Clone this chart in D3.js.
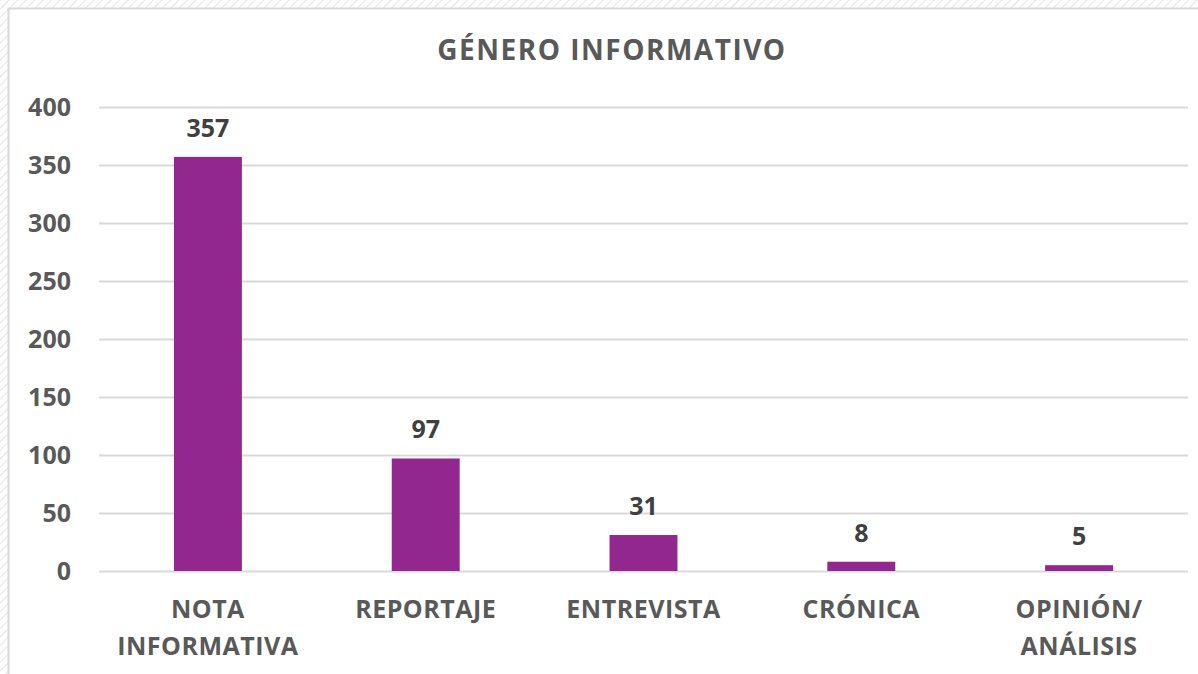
<!DOCTYPE html>
<html>
<head>
<meta charset="utf-8">
<script src="https://cdn.jsdelivr.net/npm/d3@7"></script>
<style>
  body { margin: 0; background: #fff; }
  svg { display: block; }
</style>
</head>
<body>
<svg id="chart" width="1198" height="674"></svg>
<script>
// chart data
var categories = ["NOTA INFORMATIVA", "REPORTAJE", "ENTREVISTA", "CRÓNICA", "OPINIÓN/ ANÁLISIS"];
var labelLines = [["NOTA", "INFORMATIVA"], ["REPORTAJE"], ["ENTREVISTA"], ["CRÓNICA"], ["OPINIÓN/", "ANÁLISIS"]];
var values = [357, 97, 31, 8, 5];
var yTicks = [0, 50, 100, 150, 200, 250, 300, 350, 400];
var title = "GÉNERO INFORMATIVO";

var svg = d3.select("#chart");
var font = "'Open Sans', 'Liberation Sans', sans-serif";

// hatched frame on the left and top edges
var defs = svg.append("defs");
var pat = defs.append("pattern")
  .attr("id", "hatch")
  .attr("width", 6).attr("height", 6)
  .attr("patternUnits", "userSpaceOnUse")
  .attr("patternTransform", "rotate(45)");
pat.append("line")
  .attr("x1", 0).attr("y1", 0).attr("x2", 0).attr("y2", 6)
  .attr("stroke", "#e4e4e4").attr("stroke-width", 2);
svg.append("rect").attr("x", 0).attr("y", 0).attr("width", 1198).attr("height", 8).attr("fill", "url(#hatch)");
svg.append("rect").attr("x", 0).attr("y", 0).attr("width", 8).attr("height", 674).attr("fill", "url(#hatch)");
svg.append("path")
  .attr("d", "M8.5,674 V8.5 H1198")
  .attr("fill", "none")
  .attr("stroke", "#d9d9d9")
  .attr("stroke-width", 2);

var margin = {top: 107, right: 10, bottom: 103, left: 99};
var plotWidth = 1188 - margin.left;
var plotHeight = 571 - margin.top;

var y = d3.scaleLinear()
  .domain([0, 400])
  .range([plotHeight, 0]);

var x = d3.scaleBand()
  .domain(categories)
  .range([0, plotWidth])
  .paddingInner(0.688)
  .paddingOuter(0.344);

var plot = svg.append("g").attr("id", "plot")
  .attr("transform", "translate(" + margin.left + "," + margin.top + ")");

// gridlines
var grid = plot.append("g")
  .call(d3.axisLeft(y).tickValues(yTicks).tickSize(-plotWidth).tickFormat(""));
grid.select(".domain").remove();
grid.selectAll("line").attr("stroke", "#d9d9d9").attr("stroke-width", 2);

// y axis labels
var yAxis = plot.append("g")
  .call(d3.axisLeft(y).tickValues(yTicks).tickSize(0).tickPadding(28));
yAxis.select(".domain").remove();
yAxis.selectAll("text")
  .attr("fill", "#595959")
  .style("font-family", font)
  .style("font-size", "25px")
  .style("font-weight", "bold");

// bars
plot.selectAll("rect.bar")
  .data(values)
  .enter().append("rect")
  .attr("class", "bar")
  .attr("x", function(d, i){ return x(categories[i]); })
  .attr("y", function(d){ return y(d); })
  .attr("width", x.bandwidth())
  .attr("height", function(d){ return plotHeight - y(d); })
  .attr("fill", "#92278f");

// value labels
plot.selectAll("text.val")
  .data(values)
  .enter().append("text")
  .attr("class", "val")
  .attr("x", function(d, i){ return x(categories[i]) + x.bandwidth() / 2; })
  .attr("y", function(d){ return y(d) - 20; })
  .attr("text-anchor", "middle")
  .attr("fill", "#404040")
  .style("font-family", font)
  .style("font-size", "25px")
  .style("font-weight", "bold")
  .text(function(d){ return d; });

// category labels
var cat = plot.selectAll("text.cat")
  .data(categories)
  .enter().append("text")
  .attr("class", "cat")
  .attr("x", function(d){ return x(d) + x.bandwidth() / 2; })
  .attr("y", plotHeight + 47)
  .attr("text-anchor", "middle")
  .attr("fill", "#595959")
  .style("font-family", font)
  .style("font-size", "25px")
  .style("font-weight", "bold")
  .style("letter-spacing", "0.5px");
cat.each(function(d, i){
  var t = d3.select(this);
  labelLines[i].forEach(function(line, j){
    t.append("tspan")
      .attr("x", x(d) + x.bandwidth() / 2)
      .attr("dy", j === 0 ? 0 : 37)
      .text(line);
  });
});

// title
svg.append("text")
  .attr("x", 612)
  .attr("y", 60)
  .attr("text-anchor", "middle")
  .attr("fill", "#595959")
  .style("font-family", font)
  .style("font-size", "28px")
  .style("font-weight", "bold")
  .style("letter-spacing", "1.5px")
  .text(title);
</script>
</body>
</html>
